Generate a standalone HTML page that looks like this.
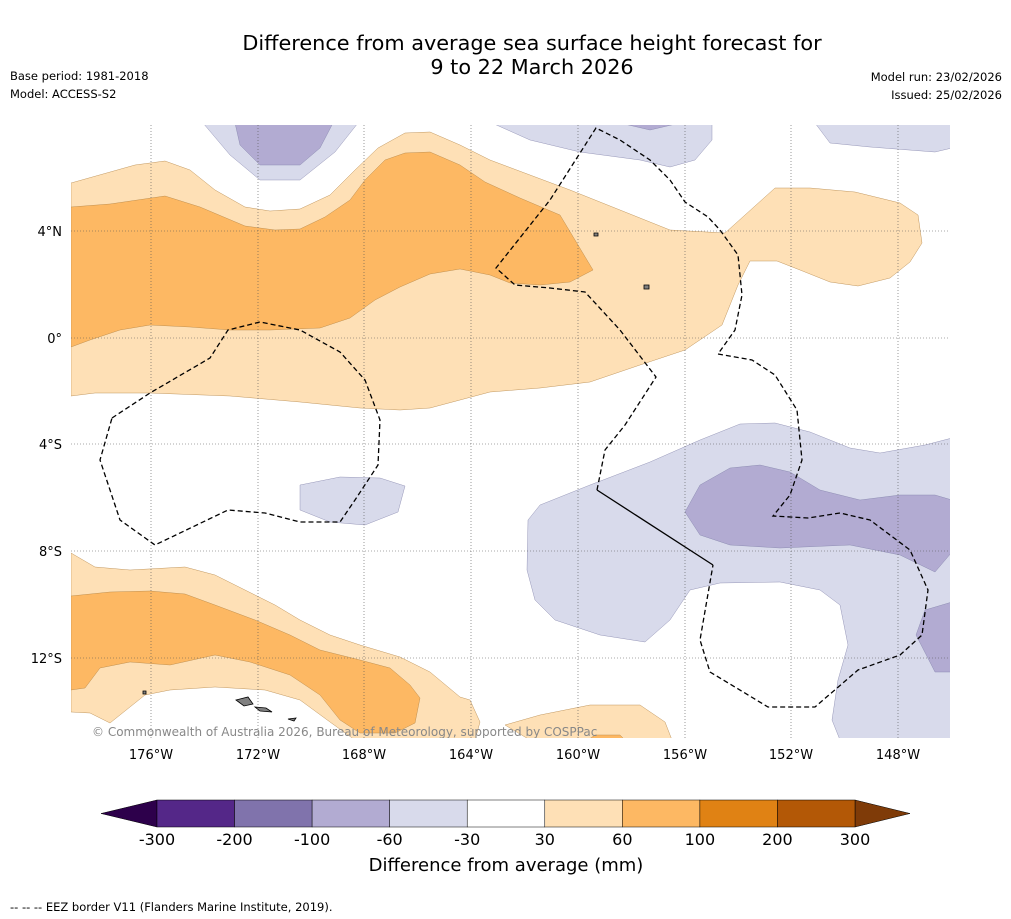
<!DOCTYPE html>
<html><head><meta charset="utf-8"><style>
body{margin:0;background:#fff;font-family:"Liberation Sans","DejaVu Sans",sans-serif}
svg{display:block}
</style></head><body>
<svg width="1011" height="919" viewBox="0 0 1011 919" font-family="DejaVu Sans, Liberation Sans, sans-serif">
<text x="532" y="50" font-size="20.8" text-anchor="middle">Difference from average sea surface height forecast for</text>
<text x="532" y="74" font-size="20.8" text-anchor="middle">9 to 22 March 2026</text>
<text x="10" y="80" font-size="11.5">Base period: 1981-2018</text>
<text x="10" y="98" font-size="11.5">Model: ACCESS-S2</text>
<text x="1002" y="81" font-size="11.5" text-anchor="end">Model run: 23/02/2026</text>
<text x="1002" y="99" font-size="11.5" text-anchor="end">Issued: 25/02/2026</text>
<defs><clipPath id="mc"><rect x="71" y="125" width="879" height="613"/></clipPath></defs>
<g clip-path="url(#mc)">
<g stroke="#b08040" stroke-width="0.4">
<path fill="#fee0b6" d="M71,183 L135,165 165,161 190,170 215,190 245,207 270,211 300,209 330,195 355,170 378,148 405,133 430,132 460,145 490,160 530,175 570,190 620,210 670,230 725,233 745,215 775,188 810,188 855,192 900,203 918,215 922,243 910,262 890,278 858,286 830,282 800,270 777,261 750,261 738,285 722,325 685,350 640,365 590,382 540,388 490,392 460,400 430,408 400,410 360,408 300,402 230,396 150,393 95,393 71,396Z"/>
<path fill="#fdb863" d="M71,207 L110,204 165,196 200,207 245,226 275,230 300,229 325,217 350,200 365,180 385,160 405,153 430,152 460,165 485,182 520,198 560,215 575,240 593,270 570,282 540,285 510,283 490,275 460,269 430,274 400,287 375,300 350,318 320,328 270,330 230,330 190,327 150,325 120,330 90,340 71,347Z"/>
<path fill="#fee0b6" d="M71,553 L95,567 130,570 185,567 215,575 245,590 275,605 300,620 330,635 360,645 400,657 430,672 460,697 470,700 480,722 475,740 355,740 330,722 300,700 265,690 215,687 170,690 145,695 110,723 90,713 71,712Z"/>
<path fill="#fdb863" d="M71,596 L110,592 150,591 185,594 215,605 255,620 290,635 320,650 360,660 390,668 410,685 420,698 415,723 395,733 360,733 340,720 320,695 290,675 250,662 215,655 170,665 130,662 100,668 85,688 71,690Z"/>
<path fill="#fee0b6" d="M505,725 L540,715 590,705 640,705 665,722 672,740 530,740Z"/>
<path fill="#fdb863" d="M588,740 L595,735 620,735 625,740Z"/>
</g>
<g stroke="#8080a8" stroke-width="0.4">
<path fill="#d8daeb" d="M203,123 L230,155 260,180 300,180 335,152 358,123Z"/>
<path fill="#b2abd2" d="M235,123 L240,145 260,165 300,165 320,148 333,123Z"/>
<path fill="#d8daeb" d="M492,123 L530,140 580,152 640,160 670,167 695,160 712,140 712,123Z"/>
<path fill="#b2abd2" d="M620,123 L650,130 680,123Z"/>
<path fill="#d8daeb" d="M815,123 L830,143 870,147 935,152 952,148 952,123Z"/>
<path fill="#d8daeb" d="M300,485 L340,477 380,478 405,486 398,512 365,525 330,522 300,510Z"/>
<path fill="#d8daeb" d="M952,438 L925,445 880,453 850,448 810,432 775,423 740,424 700,440 650,462 590,485 540,505 528,520 527,570 535,600 555,620 600,635 645,642 670,620 690,590 720,583 780,582 820,590 840,605 848,645 838,680 832,720 840,740 952,740Z"/>
<path fill="#b2abd2" d="M952,500 L935,495 900,495 860,500 820,490 790,472 760,465 730,468 700,485 685,512 700,535 730,545 780,548 850,545 900,555 935,572 952,552Z"/>
<path fill="#b2abd2" d="M952,602 L925,610 916,635 935,672 952,672Z"/>
</g>
<g stroke="#555" stroke-width="0.6" stroke-dasharray="1,2">
<line x1="151" y1="125" x2="151" y2="738"/><line x1="258" y1="125" x2="258" y2="738"/><line x1="364" y1="125" x2="364" y2="738"/><line x1="471" y1="125" x2="471" y2="738"/><line x1="578" y1="125" x2="578" y2="738"/><line x1="685" y1="125" x2="685" y2="738"/><line x1="791" y1="125" x2="791" y2="738"/><line x1="898" y1="125" x2="898" y2="738"/>
<line x1="71" y1="231" x2="950" y2="231"/><line x1="71" y1="338" x2="950" y2="338"/><line x1="71" y1="444" x2="950" y2="444"/><line x1="71" y1="551" x2="950" y2="551"/><line x1="71" y1="658" x2="950" y2="658"/>
</g>
<g fill="none" stroke="#000" stroke-width="1.3" stroke-dasharray="5,3">
<path d="M112,418 L150,393 210,358 228,330 260,322 300,330 340,352 365,380 380,420 378,465 355,500 340,522 300,522 265,513 228,510 155,545 120,520 100,460Z"/>
<path d="M597,490 L605,450 625,425 656,377 620,330 585,292 550,288 515,285 496,268 550,200 596,128 620,140 650,160 670,180 685,202 708,217 720,230 738,255 742,295 735,330 718,354 752,360 775,375 797,410 802,460 790,495 773,516 808,518 840,513 870,520 910,550 928,590 922,635 900,655 858,670 815,707 768,707 710,672 700,640 713,565"/>
</g>
<path d="M597,490 L713,565" stroke="#000" stroke-width="1.3" fill="none"/>
<g fill="#808080" stroke="#000" stroke-width="0.8">
<path d="M236,700 L248,697 253,704 244,706Z"/><path d="M255,707 L266,708 272,712 260,711Z"/>
<path d="M288,719 L296,718 294,721Z"/><path d="M143,691 h3 v3 h-3Z"/><path d="M594,233 h4 v3 h-4Z"/><path d="M644,285 h5 v4 h-5Z"/>
</g>
<text x="92" y="736" font-size="12" fill="#888">© Commonwealth of Australia 2026, Bureau of Meteorology, supported by COSPPac</text>
</g>
<g font-size="13" text-anchor="end">
<text x="62" y="236">4°N</text><text x="62" y="343">0°</text><text x="62" y="449">4°S</text><text x="62" y="556">8°S</text><text x="62" y="663">12°S</text>
</g>
<g font-size="13" text-anchor="middle">
<text x="151" y="759">176°W</text><text x="258" y="759">172°W</text><text x="364" y="759">168°W</text><text x="471" y="759">164°W</text><text x="578" y="759">160°W</text><text x="685" y="759">156°W</text><text x="791" y="759">152°W</text><text x="898" y="759">148°W</text>
</g>
<g id="cbar"></g>
<text x="506" y="871" font-size="18" text-anchor="middle">Difference from average (mm)</text>
<text x="10" y="911" font-size="11.5">--  --  -- EEZ border V11 (Flanders Marine Institute, 2019).</text>
</svg>
<script>
const levels=["-300","-200","-100","-60","-30","30","60","100","200","300"];
const colors=["#542788","#8073ac","#b2abd2","#d8daeb","#ffffff","#fee0b6","#fdb863","#e08214","#b35806"];
const g=document.getElementById('cbar');const ns='http://www.w3.org/2000/svg';
const x0=157,x1=855,y0=800,h=27,w=(x1-x0)/colors.length;
function mk(t,a){const e=document.createElementNS(ns,t);for(const k in a)e.setAttribute(k,a[k]);g.appendChild(e);return e;}
const l=mk('polygon',{points:`${x0},${y0} ${x0},${y0+h} 101,${y0+h/2}`,fill:'#2d004b',stroke:'#000','stroke-width':0.5});


const r=mk('polygon',{points:`${x1},${y0} ${x1},${y0+h} 910,${y0+h/2}`,fill:'#7f3b08',stroke:'#000','stroke-width':0.5});


colors.forEach((c,i)=>{const e=mk('rect',{x:x0+i*w,y:y0,width:w,height:h,fill:c,stroke:'#000','stroke-width':0.5});

});
levels.forEach((v,i)=>{const t=mk('text',{x:x0+i*w,y:845,'font-size':16,'text-anchor':'middle'});t.textContent=v;

});
</script>
</body></html>
